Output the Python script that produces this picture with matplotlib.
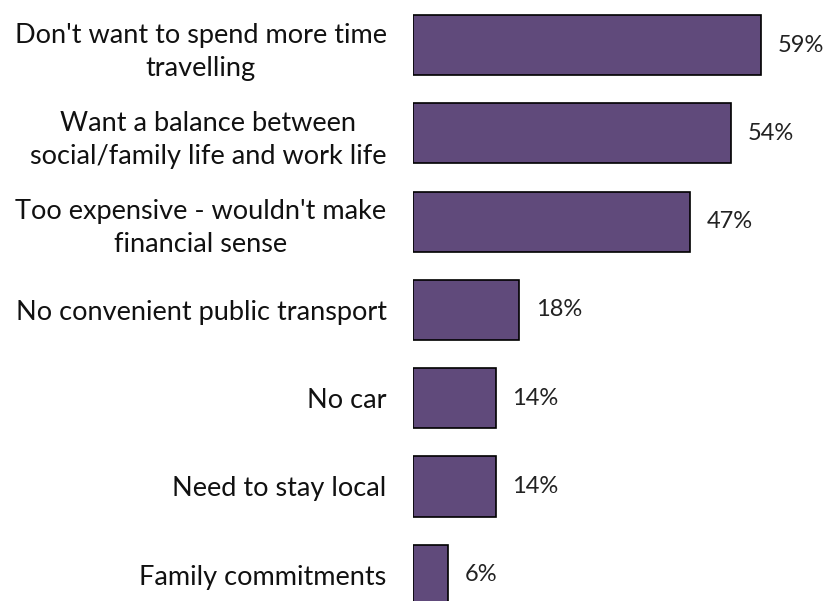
import matplotlib.pyplot as plt
import numpy as np

reasons = [
    "Don't want to spend more time\ntravelling",
    "Want a balance between\nsocial/family life and work life",
    "Too expensive - wouldn't make\nfinancial sense",
    "No convenient public transport",
    "No car",
    "Need to stay local",
    "Family commitments",
]
shares = [59, 54, 47, 18, 14, 14, 6]

BAR_COLOR = "#604a7b"

plt.rcParams["font.family"] = ["Lato", "DejaVu Sans"]

fig = plt.figure(figsize=(8.27, 6.01), dpi=100)
ax = fig.add_axes([413 / 827, 0.0, 1 - 413 / 827, 1.0])

y_pos = np.arange(len(reasons))
ax.barh(y_pos, shares, height=0.68, color=BAR_COLOR, edgecolor="black", linewidth=1.2)

for y, v in zip(y_pos, shares):
    ax.annotate(f"{v}%", xy=(v, y), xytext=(12, 0), textcoords="offset points",
                va="center", ha="left", fontsize=17, color="#222222")

ax.set_xlim(0, 70.2)
ax.set_ylim(6.297, -0.51)
ax.set_yticks(y_pos)
ax.set_yticklabels(reasons, fontsize=19.5, color="#111111")
for lbl in ax.get_yticklabels():
    lbl.set_multialignment("center")
    lbl.set_linespacing(1.4)
ax.tick_params(axis="y", length=0, pad=19)
ax.tick_params(axis="x", bottom=False, labelbottom=False)
for spine in ax.spines.values():
    spine.set_visible(False)

fig.savefig("out.png", dpi=100)
